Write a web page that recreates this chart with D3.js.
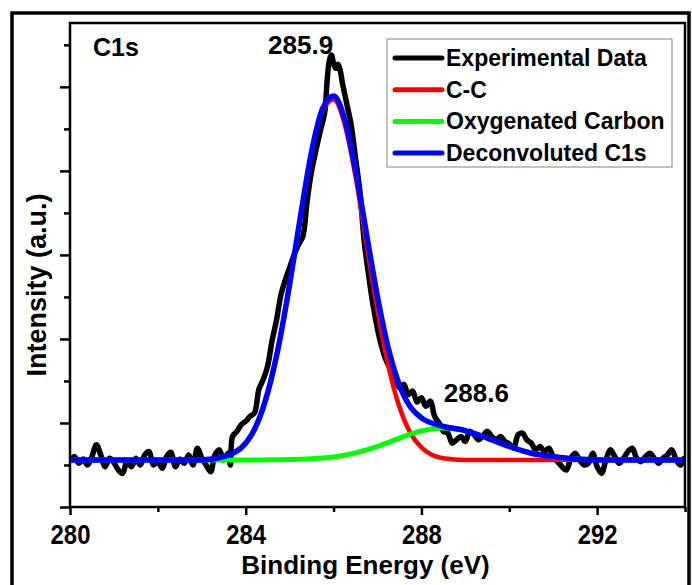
<!DOCTYPE html>
<html lang="en">
<head>
  <meta charset="UTF-8">
  <title>C1s XPS spectrum</title>
  <script src="https://d3js.org/d3.v7.min.js"></script>
  <style>
    body { margin: 0; background: #fff; }
    svg text { font-family: "Liberation Sans", Arial, sans-serif; font-weight: bold; fill: #000; }
  </style>
</head>
<body>
<svg id="chart" width="692" height="585"></svg>
<script>
// experimental spectrum: [binding energy (eV), intensity (a.u.)]
const expData = [
  [280.0,0.55],[280.1,0.60],[280.2,0.52],[280.3,0.57],[280.4,0.50],[280.5,0.60],[280.6,0.74],[280.7,0.62],
  [280.8,0.48],[280.9,0.58],[281.0,0.53],[281.1,0.44],[281.2,0.40],[281.3,0.55],[281.4,0.48],[281.5,0.58],
  [281.6,0.50],[281.7,0.62],[281.8,0.66],[281.9,0.50],[282.0,0.54],[282.1,0.46],[282.2,0.60],[282.3,0.65],
  [282.4,0.48],[282.5,0.57],[282.6,0.52],[282.7,0.62],[282.8,0.50],[282.9,0.70],[283.0,0.58],[283.1,0.50],
  [283.2,0.42],[283.3,0.62],[283.4,0.68],[283.5,0.56],[283.6,0.64],[283.65,0.50],[283.7,0.84],[283.8,0.90],
  [283.9,0.98],[284.0,1.02],[284.1,1.08],[284.2,1.12],[284.3,1.40],[284.4,1.52],[284.5,1.68],[284.6,1.98],
  [284.7,2.22],[284.8,2.52],[284.9,2.70],[285.0,2.85],[285.1,3.00],[285.2,3.12],[285.3,3.22],[285.4,3.65],
  [285.5,4.00],[285.6,4.25],[285.7,4.48],[285.8,4.70],[285.85,5.05],[285.9,5.30],[285.95,5.38],[286.0,5.28],
  [286.05,5.22],[286.1,5.27],[286.15,5.20],[286.2,5.05],[286.3,4.80],[286.4,4.55],[286.5,4.15],[286.6,3.75],
  [286.7,3.15],[286.8,2.75],[286.9,2.40],[287.0,2.12],[287.1,1.90],[287.2,1.74],[287.3,1.64],[287.4,1.55],
  [287.5,1.42],[287.6,1.46],[287.7,1.34],[287.8,1.38],[287.9,1.25],[288.0,1.30],[288.1,1.20],[288.2,1.26],
  [288.3,1.08],[288.4,1.00],[288.5,0.90],[288.6,0.88],[288.7,0.76],[288.8,0.80],[288.9,0.84],[289.0,0.78],
  [289.1,0.90],[289.2,0.86],[289.3,0.80],[289.4,0.85],[289.5,0.90],[289.6,0.84],[289.7,0.80],[289.8,0.84],
  [289.9,0.78],[290.0,0.75],[290.1,0.70],[290.2,0.86],[290.3,0.88],[290.4,0.80],[290.5,0.76],[290.6,0.68],
  [290.7,0.72],[290.8,0.66],[290.9,0.70],[291.0,0.60],[291.1,0.54],[291.2,0.48],[291.3,0.44],[291.4,0.58],
  [291.5,0.64],[291.6,0.56],[291.7,0.50],[291.8,0.52],[291.9,0.64],[292.0,0.48],[292.1,0.40],[292.2,0.56],
  [292.3,0.68],[292.4,0.60],[292.5,0.52],[292.6,0.58],[292.7,0.66],[292.8,0.70],[292.9,0.58],[293.0,0.54],
  [293.1,0.60],[293.2,0.64],[293.3,0.58],[293.4,0.52],[293.5,0.58],[293.6,0.62],[293.7,0.68],[293.8,0.56],
  [293.9,0.50],[294.0,0.60]
];

// fitted components, sampled at fitE
const fitE   = [280, 282, 283, 283.5, 284, 284.25, 284.5, 284.75, 285, 285.25, 285.5, 285.75, 286, 286.25, 286.5,
                286.75, 287, 287.25, 287.5, 287.75, 288, 288.5, 289, 289.5, 290, 290.5, 291, 291.5, 292, 294];
const fitCC  = [0.56, 0.56, 0.56, 0.60, 0.76, 0.98, 1.36, 1.92, 2.65, 3.46, 4.22, 4.72, 4.85, 4.56, 3.93,
                3.13, 2.34, 1.67, 1.19, 0.88, 0.71, 0.58, 0.56, 0.56, 0.56, 0.56, 0.56, 0.56, 0.56, 0.56];
const fitOxy = [0.56, 0.56, 0.56, 0.56, 0.56, 0.56, 0.561, 0.562, 0.564, 0.567, 0.573, 0.582, 0.596, 0.616, 0.644,
                0.679, 0.722, 0.77, 0.82, 0.867, 0.906, 0.94, 0.906, 0.82, 0.722, 0.644, 0.596, 0.573, 0.564, 0.56];
const fitSum = [0.56, 0.56, 0.56, 0.60, 0.76, 0.98, 1.36, 1.92, 2.65, 3.47, 4.23, 4.74, 4.89, 4.62, 4.01,
                3.25, 2.50, 1.88, 1.45, 1.19, 1.06, 0.96, 0.91, 0.82, 0.72, 0.64, 0.60, 0.57, 0.56, 0.56];

const xMajorTicks = [280, 284, 288, 292];
const xMinorTicks = [282, 286, 290, 294];
const yMajorTicks = [0, 1, 2, 3, 4, 5];
const yMinorTicks = [0.5, 1.5, 2.5, 3.5, 4.5, 5.5];

const seriesNames  = ["Experimental Data", "C-C", "Oxygenated Carbon", "Deconvoluted C1s"];
const seriesColors = ["#000000", "#ff0000", "#00ff00", "#0000ff"];

const svg = d3.select("#chart");
const plotL = 70, plotR = 685, plotT = 23, plotB = 507;

const x = d3.scaleLinear().domain([280, 294]).range([plotL, plotR]);
const y = d3.scaleLinear().domain([0, 5.76]).range([plotB, plotT]);

// outer frame of the figure
svg.append("rect")
  .attr("x", 12).attr("y", 13).attr("width", 677).attr("height", 600)
  .attr("fill", "none").attr("stroke", "#000").attr("stroke-width", 3.5);

svg.append("clipPath").attr("id", "plotClip")
  .append("rect").attr("x", plotL).attr("y", plotT).attr("width", plotR - plotL).attr("height", plotB - plotT);

const plot = svg.append("g").attr("clip-path", "url(#plotClip)");

const lineExp = d3.line().x(d => x(d[0])).y(d => y(d[1])).curve(d3.curveCatmullRom.alpha(0.5));
const lineFit = d3.line().x(d => x(d[0])).y(d => y(d[1])).curve(d3.curveMonotoneX);

plot.append("path").datum(expData)
  .attr("d", lineExp).attr("fill", "none").attr("stroke", seriesColors[0])
  .attr("stroke-width", 5.5).attr("stroke-linejoin", "round");

const fits = [
  { vals: fitCC, color: seriesColors[1], w: 4.5 },
  { vals: fitOxy, color: seriesColors[2], w: 5 },
  { vals: fitSum, color: seriesColors[3], w: 5.5 }
];
fits.forEach(f => {
  plot.append("path").datum(fitE.map((e, i) => [e, f.vals[i]]))
    .attr("d", lineFit).attr("fill", "none").attr("stroke", f.color)
    .attr("stroke-width", f.w).attr("stroke-linejoin", "round");
});

// axes
function styleAxis(g) {
  g.select(".domain").remove();
  g.selectAll("line").attr("stroke", "#000").attr("stroke-width", 2.5);
}
svg.append("g").attr("transform", `translate(0,${plotB})`)
  .call(d3.axisBottom(x).tickValues(xMajorTicks).tickSize(8).tickPadding(8).tickFormat(d3.format("d")))
  .call(styleAxis)
  .call(g => g.selectAll("text").attr("font-size", 26).attr("font-family", null)
    .attr("transform", "scale(0.92,1.08)"));
svg.append("g").attr("transform", `translate(0,${plotB})`)
  .call(d3.axisBottom(x).tickValues(xMinorTicks).tickSize(5).tickFormat(""))
  .call(styleAxis);
svg.append("g").attr("transform", `translate(${plotL},0)`)
  .call(d3.axisLeft(y).tickValues(yMajorTicks).tickSize(10).tickFormat(""))
  .call(styleAxis);
svg.append("g").attr("transform", `translate(${plotL},0)`)
  .call(d3.axisLeft(y).tickValues(yMinorTicks).tickSize(6).tickFormat(""))
  .call(styleAxis);

// plot frame
svg.append("rect")
  .attr("x", plotL).attr("y", plotT).attr("width", plotR - plotL).attr("height", plotB - plotT)
  .attr("fill", "none").attr("stroke", "#000").attr("stroke-width", 2.5);

// axis titles
svg.append("text").attr("x", (plotL + plotR) / 2 - 12).attr("y", 574)
  .attr("text-anchor", "middle").attr("font-size", 26).text("Binding Energy (eV)");
svg.append("text").attr("transform", `translate(46,${285}) rotate(-90)`)
  .attr("text-anchor", "middle").attr("font-size", 27).text("Intensity (a.u.)");

// annotations
svg.append("text").attr("x", 93).attr("y", 56).attr("font-size", 25).text("C1s");
svg.append("text").attr("x", x(285.25)).attr("y", y(5.39))
  .attr("text-anchor", "middle").attr("font-size", 26).text("285.9");
svg.append("text").attr("x", x(289.25)).attr("y", y(1.25))
  .attr("text-anchor", "middle").attr("font-size", 26).text("288.6");

// legend
const lg = svg.append("g").attr("transform", "translate(387,39)");
lg.append("rect").attr("width", 285).attr("height", 128)
  .attr("fill", "#fff").attr("stroke", "#999").attr("stroke-width", 1.2);
seriesNames.forEach((name, i) => {
  const cy = 19 + i * 31.7;
  lg.append("line").attr("x1", 8).attr("x2", 55).attr("y1", cy).attr("y2", cy)
    .attr("stroke", seriesColors[i]).attr("stroke-width", 5).attr("stroke-linecap", "round");
  lg.append("text").attr("x", 59).attr("y", cy + 8).attr("font-size", 23).text(name);
});
</script>
</body>
</html>
